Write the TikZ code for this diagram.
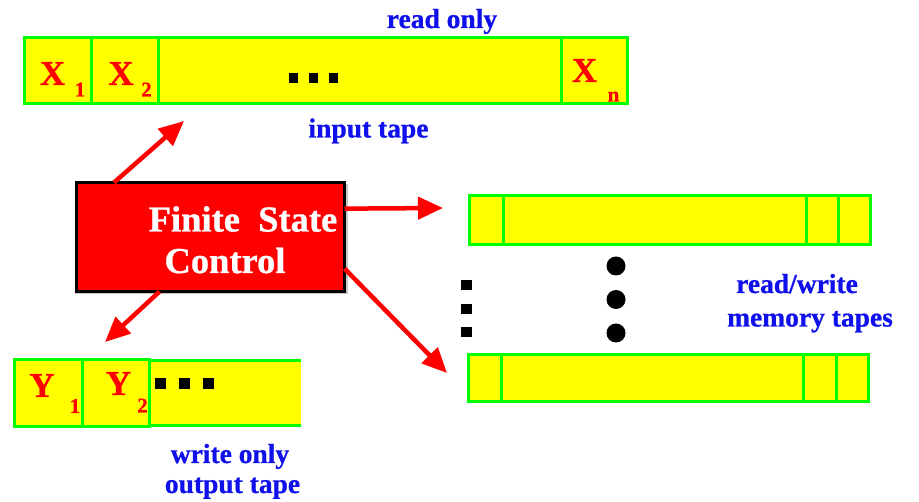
\documentclass[tikz,border=0pt]{standalone}
\usepackage{fontspec}
\setmainfont{Liberation Serif}
\newfontfamily\heavyserif[BoldFeatures={FakeBold=0.8}]{Liberation Serif}
\usetikzlibrary{arrows.meta,calc}
\definecolor{tapegreen}{RGB}{0,255,0}
\definecolor{tapeyellow}{RGB}{255,255,0}
\definecolor{ctrlred}{RGB}{255,0,0}
\definecolor{labelblue}{RGB}{16,16,235}
\tikzset{
  cell/.style={draw=tapegreen, fill=tapeyellow, line width=3pt, inner sep=0pt, outer sep=0pt},
  opencell/.style={fill=tapeyellow, inner sep=0pt, outer sep=0pt},
  sym/.style={text=ctrlred, font=\heavyserif\bfseries\fontsize{35}{38}\selectfont, inner sep=0pt, anchor=base},
  idx/.style={text=ctrlred, font=\heavyserif\bfseries\fontsize{21}{24}\selectfont, inner sep=0pt, anchor=base},
  caption/.style={text=labelblue, font=\heavyserif\bfseries\fontsize{27.5}{30}\selectfont, inner sep=0pt, anchor=base},
  ctrltext/.style={text=white, font=\heavyserif\bfseries\fontsize{36.5}{40}\selectfont, inner sep=0pt, anchor=base},
  ctrlbox/.style={draw=black, fill=ctrlred, line width=3.3pt, inner sep=0pt, outer sep=0pt},
  link/.style={draw=ctrlred, line width=4.5pt, -{Triangle[length=25pt,width=22pt]}},
  blob/.style={fill=black}
}
\begin{document}
\begin{tikzpicture}[x=1pt,y=-1pt]
\useasboundingbox (0,0) rectangle (919,502);

% input tape (read only)
\node[cell, minimum width=67pt, minimum height=66pt] (in1) at (57.5,70.5) {};
\node[cell, minimum width=67pt, minimum height=66pt] (in2) at (124.5,70.5) {};
\node[cell, minimum width=403pt, minimum height=66pt] (in3) at (359.5,70.5) {};
\node[cell, minimum width=66.5pt, minimum height=66pt] (in4) at (594.25,70.5) {};
\node[sym] (x1) at (52.5,85) {X};
\node[idx] (x1i) at (80,96.5) {1};
\node[sym] (x2) at (121,85) {X};
\node[idx] (x2i) at (146.5,96.5) {2};
\node[sym] (xn) at (584.5,82) {X};
\node[idx] (xni) at (613.5,101.5) {n};
\foreach \cx in {293.5,313.8,333.7}
  \fill[blob] (\cx-4.5,73) rectangle (\cx+4.5,83.5);
\node[caption] (ro) at (442,28) {read only};
\node[caption] (it) at (368.5,137.5) {input tape};

% finite state control, with its faint grey edge
\fill[gray!45] (75,184) rectangle (347.5,294);
\node[ctrlbox, minimum width=268pt, minimum height=109pt] (fsc) at (210.5,237) {};
\node[ctrltext] (fsc1) at (243,231.5) {Finite\ \ State};
\node[ctrltext] (fsc2) at (225,273) {Control};

% read/write memory tapes
\node[cell, minimum width=33.5pt, minimum height=49pt] (ma1) at (486.25,220) {};
\node[cell, minimum width=303pt, minimum height=49pt] (ma2) at (654.5,220) {};
\node[cell, minimum width=32pt, minimum height=49pt] (ma3) at (822,220) {};
\node[cell, minimum width=32.5pt, minimum height=49pt] (ma4) at (854.25,220) {};
\node[cell, minimum width=32.5pt, minimum height=47pt] (mb1) at (484.75,378) {};
\node[cell, minimum width=302pt, minimum height=47pt] (mb2) at (652,378) {};
\node[cell, minimum width=33pt, minimum height=47pt] (mb3) at (819.5,378) {};
\node[cell, minimum width=32.5pt, minimum height=47pt] (mb4) at (852.25,378) {};
\foreach \cy in {266,299.5,333}
  \fill[blob] (616,\cy) circle (9.5pt);
\foreach \cy in {285,309,332}
  \fill[blob] (461,\cy-5.25) rectangle (472,\cy+5.25);
\node[caption] (rw) at (797,293) {read/write};
\node[caption] (mt) at (810,326.5) {memory tapes};

% output tape (write only), open at its right end
\node[cell, minimum width=67.5pt, minimum height=67pt] (out1) at (48.25,393) {};
\node[cell, minimum width=67pt, minimum height=67pt] (out2) at (115.5,393) {};
\node[opencell, minimum width=152pt, minimum height=68.5pt] (out3) at (225,393) {};
\draw[draw=tapegreen, line width=3pt] (out3.north east) ++(0,1.5) -- ++(-152,0)
  (out3.south east) ++(0,-1.5) -- ++(-152,0);
\draw[draw=tapegreen, line width=3pt] (out2.north east) -- (out2.south east);
\node[sym] (y1) at (42,397) {Y};
\node[idx] (y1i) at (75,413) {1};
\node[sym] (y2) at (118.5,395) {Y};
\node[idx] (y2i) at (142.5,412.5) {2};
\foreach \cx in {160.5,184.5,208.5}
  \fill[blob] (\cx-5.5,378) rectangle (\cx+5.5,389);
\node[caption] (wo) at (230,463) {write only};
\node[caption] (ot) at (232.5,493) {output tape};

% control connections
\coordinate (tipin) at (184,121);
\coordinate (tipmema) at (443,208);
\coordinate (tipmemb) at (447,373);
\coordinate (tipout) at (105,342);
\draw[link] ($(fsc.north west)!0.14!(fsc.north east)$) -- (tipin);
\draw[link] ($(fsc.north east)!0.24!(fsc.south east)$) -- (tipmema);
\draw[link] ($(fsc.north east)!0.79!(fsc.south east)$) -- (tipmemb);
\draw[link] ($(fsc.south west)!0.31!(fsc.south east)$) -- (tipout);
\end{tikzpicture}
\end{document}
